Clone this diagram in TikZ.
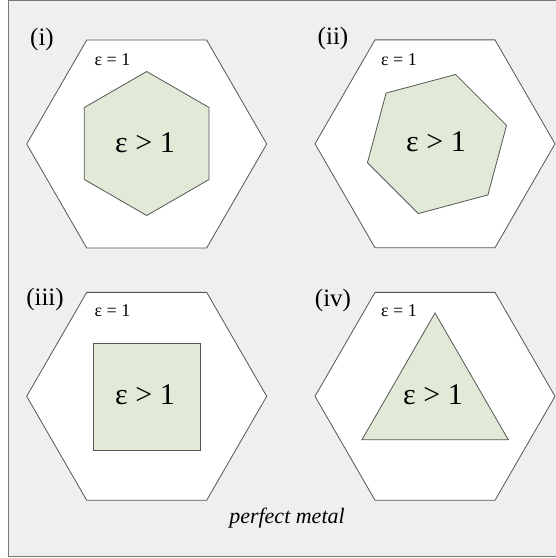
\documentclass[tikz,border=0pt]{standalone}
\usepackage{fontspec}
\setmainfont{Liberation Serif}
\usetikzlibrary{calc}
\definecolor{panelBg}{HTML}{EFEFEF}
\definecolor{frameGray}{HTML}{777777}
\definecolor{edgeGray}{HTML}{555555}
\definecolor{dielGreen}{HTML}{E0EAD6}
\tikzset{
  metal/.style={draw=edgeGray, fill=white, line width=0.8pt, line join=miter},
  dielec/.style={draw=edgeGray, fill=dielGreen, line width=0.8pt},
  panel/.style={anchor=base, inner sep=0pt, font=\fontsize{25}{30}\selectfont},
  epsout/.style={anchor=base, inner sep=0pt, font=\fontsize{18}{21}\selectfont},
  epsin/.style={anchor=base, inner sep=0pt, font=\fontsize{30}{36}\selectfont}
}

\begin{document}
\begin{tikzpicture}[x=1pt,y=-1pt]
  \useasboundingbox (0,0) rectangle (556,558);
  \fill[panelBg] (8.5,0.8) rectangle (565,556.5);
  \draw[frameGray, line width=1.2pt] (565,0.8) -- (8.5,0.8) -- (8.5,556.5) -- (565,556.5);
  % outer cells of perfect metal
  \foreach \name/\cx/\cy in {i/146.7/144, ii/435/143.8, iii/146.7/396.3, iv/435/396.3}{
    \coordinate (c-\name) at (\cx,\cy);
    \draw[metal] ([shift={(0:120)}]c-\name)
      \foreach \a in {60,120,...,300}{ -- ([shift={(\a:120)}]c-\name)} -- cycle;
  }
  % dielectric inclusions
  \coordinate (d-i) at (146.7,143.5);
  \draw[dielec] ([shift={(30:72)}]d-i)
    \foreach \a in {90,150,...,330}{ -- ([shift={(\a:72)}]d-i)} -- cycle;
  \coordinate (d-ii) at (437,144);
  \draw[dielec] ([shift={(-15:72)}]d-ii)
    \foreach \a in {45,105,...,285}{ -- ([shift={(\a:72)}]d-ii)} -- cycle;
  \draw[dielec] (93.3,343) rectangle (200,450.3);
  \draw[dielec] (435,313) -- (508.3,439.7) -- (362,439.7) -- cycle;
  % labels
  \node[panel] (lab-i) at (42,45.5) {(i)};
  \node[panel] (lab-ii) at (333,44.5) {(ii)};
  \node[panel] (lab-iii) at (45,305.5) {(iii)};
  \node[panel] (lab-iv) at (333,306) {(iv)};
  \node[epsout] (out-i) at (112.5,65) {ε = 1};
  \node[epsout] (out-ii) at (399,65) {ε = 1};
  \node[epsout] (out-iii) at (112.5,316.3) {ε = 1};
  \node[epsout] (out-iv) at (399,316.3) {ε = 1};
  \node[epsin] (in-i) at (145,152.3) {ε > 1};
  \node[epsin] (in-ii) at (436,151.7) {ε > 1};
  \node[epsin] (in-iii) at (145,404.7) {ε > 1};
  \node[epsin] (in-iv) at (433,404.7) {ε > 1};
  \node[anchor=base, inner sep=0pt, font=\fontsize{22}{26}\selectfont\itshape] (metal) at (287,523.6) {perfect metal};
\end{tikzpicture}
\end{document}
